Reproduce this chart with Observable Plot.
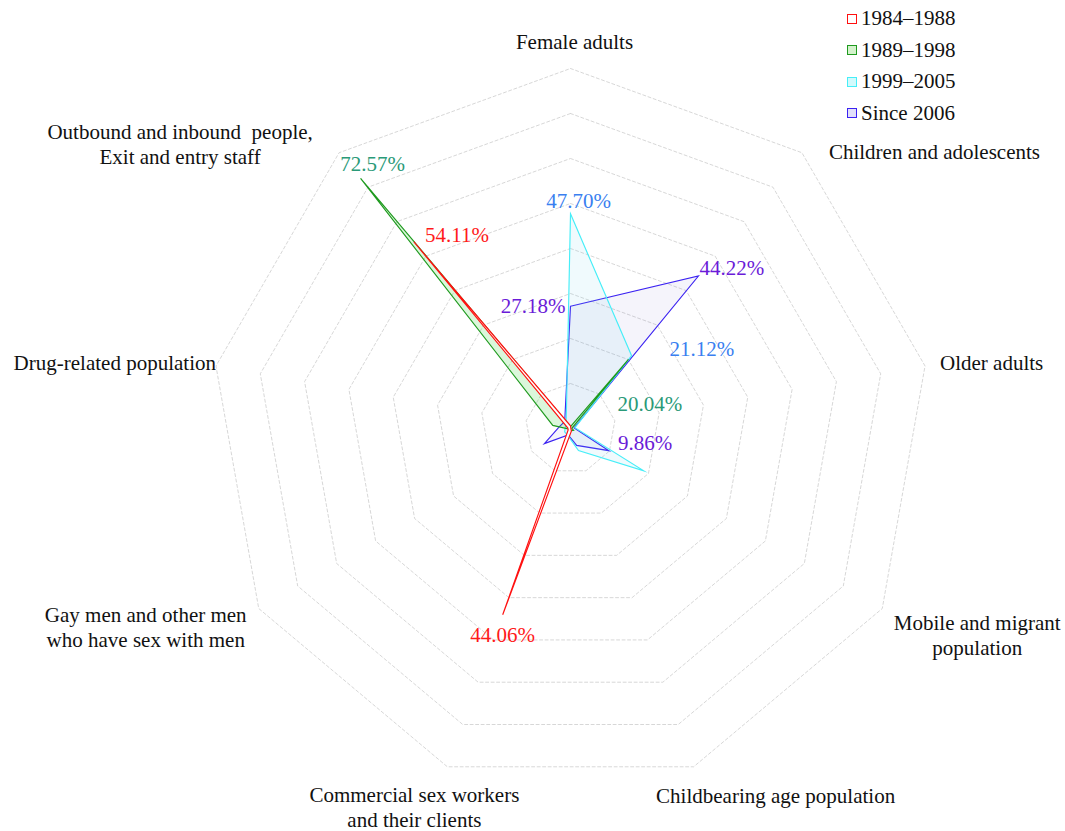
<!DOCTYPE html>
<html><head><meta charset="utf-8">
<script src="https://cdn.jsdelivr.net/npm/d3@7"></script>
<script src="https://cdn.jsdelivr.net/npm/@observablehq/plot@0.6"></script>
<style>
body{margin:0;background:#fff;font-family:"Liberation Serif","Times New Roman",serif;}
#wrap{position:relative;width:1065px;height:831px;overflow:hidden;}
#legend{position:absolute;left:847px;top:3px;font-size:21px;color:#111;line-height:1;}
.row{display:flex;align-items:center;height:31.5px;}
.sw{width:8px;height:8px;border:1.6px solid;margin-right:4px;box-sizing:content-box;}
</style></head><body><div id="wrap"><div id="chart"></div><div id="legend"></div></div>
<script>
// ---------------- DATA ----------------
const axes = [
  "Female adults",
  "Children and adolescents",
  "Older adults",
  "Mobile and migrant\npopulation",
  "Childbearing age population",
  "Commercial sex workers\nand their clients",
  "Gay men and other men\nwho have sex with men",
  "Drug-related population",
  "Outbound and inbound  people,\nExit and entry staff"
];
const periods = ["1984–1988", "1989–1998", "1999–2005", "Since 2006"];
const v1984_1988 = [0.6, 0.1, 0.1, 0.1, 0.6, 44.06, 0.6, 0.6, 54.11];
const v1989_1998 = [0.4, 20.04, 0.3, 0.8, 0.5, 0.6, 0.3, 4.0, 72.57];
const v1999_2005 = [47.70, 21.12, 1.0, 18.8, 5.2, 1.7, 1.5, 1.2, 1.5];
const vSince2006 = [27.18, 44.22, 0.8, 9.86, 4.0, 1.5, 6.7, 2.5, 2.0];
const ringLevels = [10, 20, 30, 40, 50, 60, 70, 80];
// labelled values: [period index, axis index]
const labelledValues = [[1, 8], [0, 8], [2, 0], [3, 0], [3, 1], [2, 1], [1, 1], [3, 3], [0, 5]];

// ---------------- STYLE ----------------
const seriesValues = [v1984_1988, v1989_1998, v1999_2005, vSince2006];
const seriesStyle = [
  {stroke: "#ff1010", fill: "#ffffff", fillOpacity: 0.95},
  {stroke: "#1f9a1f", fill: "#22cc22", fillOpacity: 0.16},
  {stroke: "#46eef8", fill: "#6cd0ec", fillOpacity: 0.1},
  {stroke: "#3b22f2", fill: "#5a40b8", fillOpacity: 0.06}
];
const labelColor = ["#ff1a1a", "#2a9a78", "#3a7ff0", "#6a1bd8"];
const legendSwatch = [
  {border: "#ff1010", bg: "#ffffff"},
  {border: "#1f9a1f", bg: "#d4f2cc"},
  {border: "#46eef8", bg: "#d2fafc"},
  {border: "#3b22f2", bg: "#e2e0fa"}
];
// label placement relative to anchor point (pixels)
const axisLabelPlace = [
  {anchor: "middle", dx: 4, dy: -28},
  {anchor: "start", dx: 27, dy: -2},
  {anchor: "start", dx: 15, dy: -4},
  {anchor: "middle", dx: 95, dy: 26},
  {anchor: "middle", dx: 82, dy: 28},
  {anchor: "middle", dx: -33, dy: 40},
  {anchor: "middle", dx: -113, dy: 18},
  {anchor: "end", dx: 0, dy: -4},
  {anchor: "middle", dx: -159, dy: -9}
];
const valueLabelPlace = [
  {anchor: "middle", dx: 12, dy: -14},
  {anchor: "start", dx: 11, dy: -7},
  {anchor: "middle", dx: 8, dy: -13},
  {anchor: "end", dx: -5, dy: 0},
  {anchor: "start", dx: 1, dy: -8},
  {anchor: "start", dx: 38, dy: -6},
  {anchor: "start", dx: -11, dy: 45},
  {anchor: "start", dx: 9, dy: -7},
  {anchor: "middle", dx: 0, dy: 20}
];

// ---------------- BUILD ----------------
const n = axes.length;
const ang = i => i * 2 * Math.PI / n;
const polar = (i, v) => ({x: v * Math.sin(ang(i)), y: v * Math.cos(ang(i))});

const ringPts = ringLevels.flatMap(l => axes.map((a, i) => ({level: l, ...polar(i, l)})));
const seriesPts = seriesValues.map((vals, s) => vals.map((v, i) => ({period: periods[s], axis: axes[i], value: v, ...polar(i, v)})));
const outer = d3.max(ringLevels);

const W = 1065, H = 831, cx = 570, cy = 428, pxPerUnit = 4.5;

const marks = [];
marks.push(Plot.line(ringPts, {x: "x", y: "y", z: "level", curve: "linear-closed",
  stroke: "#cdcdcd", strokeWidth: 0.8, strokeDasharray: "3,2.5"}));
// draw in reverse order so earliest period is on top
for (let s = seriesPts.length - 1; s >= 0; s--) {
  const st = seriesStyle[s];
  marks.push(Plot.line(seriesPts[s], {x: "x", y: "y", curve: "linear-closed",
    stroke: st.stroke, fill: st.fill, fillOpacity: st.fillOpacity, strokeWidth: 1.15, strokeLinejoin: "miter", strokeMiterlimit: 10}));
}
axes.forEach((a, i) => {
  const p = axisLabelPlace[i];
  marks.push(Plot.text([{...polar(i, outer), label: a}], {x: "x", y: "y", text: "label",
    dx: p.dx, dy: p.dy, textAnchor: p.anchor, fontSize: 21, lineHeight: 1.2, fill: "#111"}));
});
labelledValues.forEach(([s, i], k) => {
  const p = valueLabelPlace[k];
  const v = seriesValues[s][i];
  marks.push(Plot.text([{...polar(i, v), label: v.toFixed(2) + "%"}], {x: "x", y: "y", text: "label",
    dx: p.dx, dy: p.dy, textAnchor: p.anchor, fontSize: 21, fill: labelColor[s]}));
});

const chart = Plot.plot({
  width: W, height: H, margin: 0,
  x: {domain: [-cx / pxPerUnit, (W - cx) / pxPerUnit], range: [0, W], axis: null},
  y: {domain: [-(H - cy) / pxPerUnit, cy / pxPerUnit], range: [H, 0], axis: null},
  style: {fontFamily: '"Liberation Serif","Times New Roman",serif', background: "white", overflow: "visible"},
  marks
});
document.getElementById("chart").appendChild(chart);

const lg = document.getElementById("legend");
periods.forEach((p, s) => {
  const row = document.createElement("div"); row.className = "row";
  const sw = document.createElement("span"); sw.className = "sw";
  sw.style.borderColor = legendSwatch[s].border; sw.style.background = legendSwatch[s].bg;
  const t = document.createElement("span"); t.textContent = p;
  row.appendChild(sw); row.appendChild(t); lg.appendChild(row);
});
</script></body></html>
